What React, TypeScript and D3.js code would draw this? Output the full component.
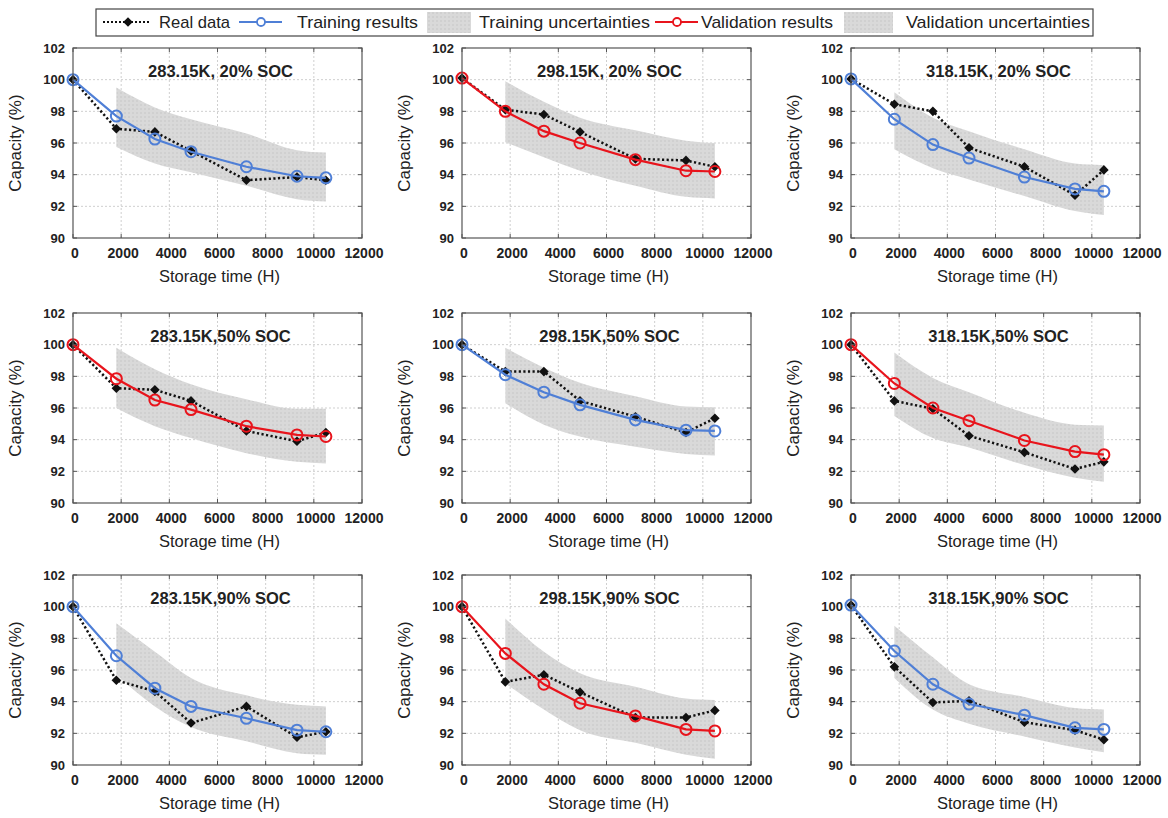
import React from "react";
import * as d3 from "d3";

const W = 1168;
const H = 818;

// storage time (hours) of each measurement
const hours = [0, 1800, 3400, 4900, 7200, 9300, 10500];
const xTicks = [0, 2000, 4000, 6000, 8000, 10000, 12000];
const yTicks = [90, 92, 94, 96, 98, 100, 102];

const titles = [
  "283.15K, 20% SOC", "298.15K, 20% SOC", "318.15K, 20% SOC",
  "283.15K,50% SOC", "298.15K,50% SOC", "318.15K,50% SOC",
  "283.15K,90% SOC", "298.15K,90% SOC", "318.15K,90% SOC",
];

// "train" = blue training result, "val" = red validation result
const kinds = ["train", "val", "train", "val", "train", "val", "train", "val", "train"];

const realData = [
  [100, 96.9, 96.7, 95.5, 93.65, 93.85, 93.65],
  [100.1, 98.1, 97.8, 96.7, 95.0, 94.9, 94.5],
  [100.05, 98.45, 98.0, 95.7, 94.5, 92.7, 94.3],
  [100, 97.25, 97.15, 96.45, 94.55, 93.9, 94.45],
  [100, 98.3, 98.3, 96.45, 95.45, 94.45, 95.35],
  [100, 96.45, 95.95, 94.25, 93.2, 92.15, 92.6],
  [100, 95.35, 94.65, 92.65, 93.7, 91.75, 92.1],
  [100, 95.25, 95.7, 94.6, 93.0, 93.0, 93.45],
  [100.1, 96.2, 93.95, 94.05, 92.7, 92.2, 91.6],
];

const modelData = [
  [100, 97.7, 96.25, 95.45, 94.5, 93.9, 93.8],
  [100.1, 98.0, 96.75, 96.0, 94.95, 94.25, 94.2],
  [100.05, 97.5, 95.9, 95.05, 93.85, 93.1, 92.95],
  [100, 97.85, 96.5, 95.9, 94.85, 94.3, 94.2],
  [100, 98.1, 97.0, 96.2, 95.25, 94.6, 94.55],
  [100, 97.55, 96.0, 95.2, 93.95, 93.25, 93.05],
  [100, 96.9, 94.85, 93.7, 92.95, 92.2, 92.1],
  [100, 97.05, 95.1, 93.9, 93.1, 92.25, 92.15],
  [100.1, 97.2, 95.1, 93.85, 93.15, 92.35, 92.25],
];

// uncertainty band, from the 2nd to the last measurement
const bandUpper = [
  [99.5, 98.25, 97.5, 96.6, 95.55, 95.4],
  [99.9, 98.6, 97.6, 96.8, 96.15, 96.0],
  [99.2, 97.6, 96.75, 95.6, 94.7, 94.6],
  [99.8, 98.45, 97.5, 96.55, 95.95, 95.95],
  [99.8, 98.55, 97.6, 96.75, 96.1, 96.05],
  [99.5, 97.9, 97.0, 95.7, 94.95, 94.9],
  [98.95, 97.15, 95.5, 94.4, 93.8, 93.7],
  [99.25, 97.15, 95.8, 94.95, 94.2, 94.1],
  [98.8, 96.8, 95.1, 94.3, 93.6, 93.5],
];
const bandLower = [
  [95.75, 94.7, 94.15, 93.3, 92.45, 92.3],
  [96.05, 95.1, 94.25, 93.3, 92.6, 92.5],
  [95.6, 94.4, 93.7, 92.65, 91.7, 91.45],
  [96.0, 94.85, 94.1, 93.15, 92.6, 92.5],
  [96.3, 94.95, 94.2, 93.55, 93.1, 93.0],
  [95.5, 94.1, 93.5, 92.4, 91.6, 91.35],
  [95.7, 93.7, 92.4, 91.5, 90.75, 90.65],
  [95.15, 93.5, 92.2, 91.4, 90.65, 90.4],
  [95.5, 93.5, 92.6, 91.8, 91.1, 90.8],
];

const legendLabels = ["Real data", "Training results", "Training uncertainties", "Validation results", "Validation uncertainties"];

const colLeft = [73, 462, 851];
const rowTop = [48, 313, 575];
const PW = 289;
const PH = 190;

const BLUE = "#4f7fd6";
const RED = "#e8141c";
const BAND = "#d9d9d9";
const FONT = "'Liberation Sans', Arial, sans-serif";
const NARROW = "'Liberation Sans Narrow', 'Liberation Sans', Arial, sans-serif";

const diamond = d3.symbol(d3.symbolSquare, 46)();

function Panel({ i }: { i: number }) {
  const left = colLeft[i % 3];
  const top = rowTop[Math.floor(i / 3)];
  const x = d3.scaleLinear().domain([0, 12000]).range([left, left + PW]);
  const y = d3.scaleLinear().domain([90, 102]).range([top + PH, top]);
  const color = kinds[i] === "train" ? BLUE : RED;

  const pts = (arr: number[]) => arr.map((v, k) => [hours[k], v] as [number, number]);
  const line = d3.line<[number, number]>().x((d) => x(d[0])).y((d) => y(d[1]));
  const bandHours = hours.slice(1);
  const area = d3
    .area<number>()
    .x((_, k) => x(bandHours[k]))
    .y0((_, k) => y(bandLower[i][k]))
    .y1((_, k) => y(bandUpper[i][k]))
    .curve(d3.curveMonotoneX);

  return (
    <g>
      <rect x={left} y={top} width={PW} height={PH} fill="#fff" />
      {xTicks.slice(1, -1).map((t) => (
        <line key={"gx" + t} x1={x(t)} x2={x(t)} y1={top} y2={top + PH} stroke="#cfcfcf" strokeWidth={1} strokeDasharray="2,2" />
      ))}
      {yTicks.slice(1, -1).map((t) => (
        <line key={"gy" + t} x1={left} x2={left + PW} y1={y(t)} y2={y(t)} stroke="#cfcfcf" strokeWidth={1} strokeDasharray="2,2" />
      ))}
      <path d={area(bandUpper[i]) || ""} fill="url(#bandPat)" />
      <path d={line(pts(realData[i])) || ""} fill="none" stroke="#111" strokeWidth={2.5} strokeDasharray="2.2,2.4" />
      {realData[i].map((v, k) => (
        <path key={"d" + k} d={diamond} transform={`translate(${x(hours[k])},${y(v)}) rotate(45)`} fill="#111" />
      ))}
      <path d={line(pts(modelData[i])) || ""} fill="none" stroke={color} strokeWidth={2.2} />
      {modelData[i].map((v, k) => (
        <circle key={"c" + k} cx={x(hours[k])} cy={y(v)} r={5.5} fill="none" stroke={color} strokeWidth={2} />
      ))}
      <rect x={left} y={top} width={PW} height={PH} fill="none" stroke="#555" strokeWidth={1.2} />
      {xTicks.map((t) => (
        <g key={"tx" + t}>
          <line x1={x(t)} x2={x(t)} y1={top + PH} y2={top + PH - 4} stroke="#555" />
          <line x1={x(t)} x2={x(t)} y1={top} y2={top + 4} stroke="#555" />
        </g>
      ))}
      {yTicks.map((t) => (
        <g key={"ty" + t}>
          <line x1={left} x2={left + 4} y1={y(t)} y2={y(t)} stroke="#555" />
          <line x1={left + PW} x2={left + PW - 4} y1={y(t)} y2={y(t)} stroke="#555" />
        </g>
      ))}
      {xTicks.map((t) => (
        <text key={"lx" + t} x={x(t) + 2} y={top + PH + 20} textAnchor="middle" fontSize={14} fontWeight="bold" fill="#222" fontFamily={FONT}>
          {t}
        </text>
      ))}
      {yTicks.map((t) => (
        <text key={"ly" + t} x={left - 8} y={y(t) + 4.5} textAnchor="end" fontSize={13} fontWeight="bold" fill="#222" fontFamily={FONT}>
          {t}
        </text>
      ))}
      <text x={left + PW / 2 + 2} y={top + PH + 44} textAnchor="middle" fontSize={16.5} fill="#222" fontFamily={FONT}>
        Storage time (H)
      </text>
      <text
        transform={`translate(${left - 52},${top + PH / 2}) rotate(-90)`}
        textAnchor="middle"
        fontSize={17}
        fill="#222"
        fontFamily={FONT}
      >
        Capacity (%)
      </text>
      <text x={left + PW / 2 + 3} y={top + 29} textAnchor="middle" fontSize={16.5} fontWeight="bold" fill="#222" fontFamily={FONT}>
        {titles[i]}
      </text>
    </g>
  );
}

function Legend() {
  const yc = 22;
  return (
    <g fontFamily={NARROW} fontSize={17} fill="#222">
      <rect x={96} y={9} width={997} height={27} fill="#fff" stroke="#444" strokeWidth={1.2} />
      <line x1={103} x2={151} y1={yc} y2={yc} stroke="#111" strokeWidth={2} strokeDasharray="2,2" />
      <path d={diamond} transform={`translate(128,${yc}) rotate(45)`} fill="#111" />
      <text x={159} y={yc + 6} textLength={71} lengthAdjust="spacingAndGlyphs">{legendLabels[0]}</text>
      <line x1={239} x2={282} y1={yc} y2={yc} stroke={BLUE} strokeWidth={2} />
      <circle cx={261} cy={yc} r={4} fill="#fff" stroke={BLUE} strokeWidth={1.8} />
      <text x={297} y={yc + 6} textLength={121} lengthAdjust="spacingAndGlyphs">{legendLabels[1]}</text>
      <rect x={427} y={12} width={44} height={21} fill="url(#bandPat)" />
      <text x={479} y={yc + 6} textLength={171} lengthAdjust="spacingAndGlyphs">{legendLabels[2]}</text>
      <line x1={655} x2={698} y1={yc} y2={yc} stroke={RED} strokeWidth={2} />
      <circle cx={677} cy={yc} r={4} fill="#fff" stroke={RED} strokeWidth={1.8} />
      <text x={701} y={yc + 6} textLength={132} lengthAdjust="spacingAndGlyphs">{legendLabels[3]}</text>
      <rect x={844} y={12} width={49} height={21} fill="url(#bandPat)" />
      <text x={906} y={yc + 6} textLength={184} lengthAdjust="spacingAndGlyphs">{legendLabels[4]}</text>
    </g>
  );
}

export default function App() {
  return (
    <svg width={W} height={H} style={{ position: "absolute", left: 0, top: 0, background: "#fff" }}>
      <defs>
        <pattern id="bandPat" width={4} height={4} patternUnits="userSpaceOnUse">
          <rect width={4} height={4} fill={BAND} />
          <rect width={2} height={2} fill="#d0d0d0" />
        </pattern>
      </defs>
      <rect width={W} height={H} fill="#fff" />
      <Legend />
      {titles.map((_, i) => (
        <Panel key={i} i={i} />
      ))}
    </svg>
  );
}
